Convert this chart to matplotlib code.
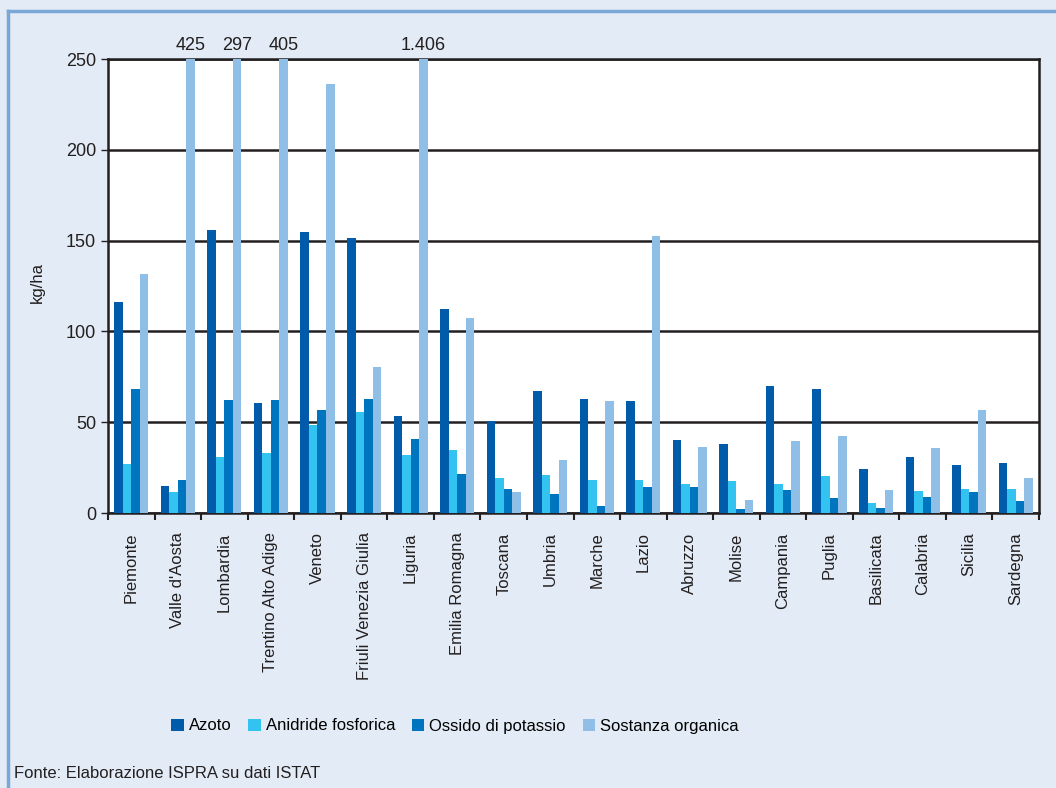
import matplotlib.pyplot as plt
import numpy as np

plt.rcParams['font.family'] = ['Liberation Sans', 'DejaVu Sans']

regioni = ['Piemonte', "Valle d'Aosta", 'Lombardia', 'Trentino Alto Adige', 'Veneto',
           'Friuli Venezia Giulia', 'Liguria', 'Emilia Romagna', 'Toscana', 'Umbria',
           'Marche', 'Lazio', 'Abruzzo', 'Molise', 'Campania', 'Puglia', 'Basilicata',
           'Calabria', 'Sicilia', 'Sardegna']

azoto = [116.2, 14.9, 155.8, 60.6, 154.7, 151.4, 53.4, 112.3, 50.6, 67.2,
         62.8, 61.7, 40.2, 38.0, 69.9, 68.3, 24.2, 30.8, 26.4, 27.5]
anidride = [27.0, 11.6, 30.8, 33.0, 48.5, 55.6, 31.9, 34.7, 19.3, 20.9,
            18.2, 18.2, 16.0, 17.6, 16.0, 20.4, 5.5, 12.1, 13.2, 13.2]
ossido = [68.3, 18.2, 62.2, 62.2, 56.7, 62.8, 40.7, 21.5, 13.2, 10.5,
          3.9, 14.3, 14.3, 2.2, 12.7, 8.3, 2.8, 8.8, 11.6, 6.6]
sostanza = [131.6, 425, 297, 405, 236.2, 80.4, 1406, 107.4, 11.6, 29.2,
            61.7, 152.5, 36.3, 7.1, 39.6, 42.4, 12.7, 35.8, 56.7, 19.3]

serie = ['Azoto', 'Anidride fosforica', 'Ossido di potassio', 'Sostanza organica']
colori = ['#005BAA', '#33C3F0', '#0075BF', '#8FBFE6']
ymax = 250

bg = '#E3ECF6'
ink = '#231F20'
fig = plt.figure(figsize=(10.56, 7.88), dpi=100, facecolor=bg)
ax = fig.add_axes([108 / 1056, 1 - 513 / 788, 931 / 1056, 454 / 788])
ax.set_facecolor('white')

x = np.arange(len(regioni))
w = 0.183
for i, (vals, col, nome) in enumerate(zip([azoto, anidride, ossido, sostanza], colori, serie)):
    ax.bar(x + (i - 1.5) * w, np.minimum(vals, ymax), width=w, color=col, label=nome, zorder=3)

# etichette per i valori fuori scala
for xi, v in zip(x, sostanza):
    if v > ymax:
        txt = f'{v:,.0f}'.replace(',', '.')
        ax.text(xi + 1.5 * w, ymax + 3, txt, ha='center', va='bottom', fontsize=13, color=ink)

ax.set_xlim(-0.5, len(regioni) - 0.5)
ax.set_ylim(0, ymax)
ax.set_yticks(np.arange(0, 251, 50))
ax.yaxis.grid(True, color=ink, linewidth=1.8, zorder=1)
ax.set_xticks(np.arange(-0.5, len(regioni), 1))
ax.set_xticklabels([])
ax.set_xticks(x, minor=True)
ax.set_xticklabels(regioni, minor=True, rotation=90, fontsize=12, color=ink, va='top')
ax.tick_params(axis='x', which='minor', length=0, pad=14)
ax.tick_params(axis='x', which='major', length=5, width=1.5, color=ink)
ax.tick_params(axis='y', length=5, width=1, color=ink, labelsize=13, labelcolor=ink)
for s in ax.spines.values():
    s.set_color(ink)
    s.set_linewidth(1.8)
ax.set_ylabel('kg/ha', fontsize=12, color=ink)
ax.yaxis.set_label_coords(-0.068, 0.507)

fig.legend(loc='center', bbox_to_anchor=(455 / 1056, 1 - 726 / 788), ncol=4, frameon=False,
           fontsize=12, handlelength=0.75, handleheight=0.75, handletextpad=0.3, columnspacing=1.0)

fig.text(14 / 1056, 1 - 773 / 788, 'Fonte: Elaborazione ISPRA su dati ISTAT', fontsize=12,
         color=ink, va='center')

# cornice
fig.add_artist(plt.Line2D([8 / 1056, 8 / 1056], [0, 1 - 11 / 788], color='#7BA7D7', lw=2.5,
                          transform=fig.transFigure))
fig.add_artist(plt.Line2D([8 / 1056, 1], [1 - 11 / 788, 1 - 11 / 788], color='#7BA7D7', lw=2.5,
                          transform=fig.transFigure))

fig.savefig('out.png', dpi=100, facecolor=bg)
